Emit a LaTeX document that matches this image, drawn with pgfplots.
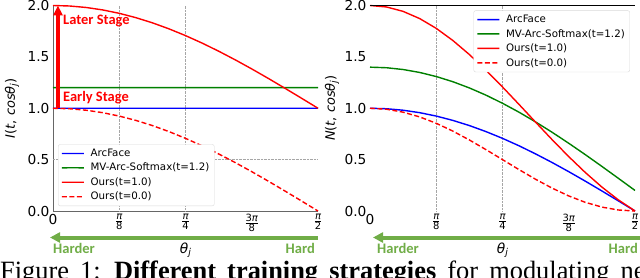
\documentclass[border=0pt]{standalone}
\usepackage{fontspec}
\setmainfont{DejaVu Sans}
\newfontfamily\carlito{Carlito}
\newfontfamily\capfont{Liberation Serif}
\usepackage{pgfplots}
\pgfplotsset{compat=1.18}
\usetikzlibrary{arrows.meta}
\definecolor{mplred}{rgb}{1,0,0}
\definecolor{mplblue}{rgb}{0,0,1}
\definecolor{mplgreen}{rgb}{0,0.5,0}
\definecolor{hgreen}{HTML}{70AD47}
\newcommand\pfrac[1]{$\frac{\mbox{\itshape π}}{\mbox{#1}}$}
\newcommand\pfracc{$\frac{\mbox{3\itshape π}}{\mbox{8}}$}
\newcommand\lab[1]{\textit{#1}(\textit{t}, \textit{cosθ}\raisebox{-0.3ex}{\fontsize{9.5}{9.5}\selectfont\itshape j})}

\pgfplotstableread{
x arc mv ours1 ours0
0.0000 1.0000 1.2000 2.0000 1.0000
0.7854 1.0001 1.2001 1.7071 0.7071
1.5708 1.0000 1.2000 1.0000 0.0000
}\leftflat

\pgfplotstableread{
x ours1 ours0
0.0000 2.0000 1.0000
0.0982 1.9952 0.9952
0.1963 1.9808 0.9808
0.2945 1.9569 0.9569
0.3927 1.9239 0.9239
0.4909 1.8819 0.8819
0.5890 1.8315 0.8315
0.6872 1.7730 0.7730
0.7854 1.7071 0.7071
0.8836 1.6344 0.6344
0.9817 1.5556 0.5556
1.0799 1.4714 0.4714
1.1781 1.3827 0.3827
1.2763 1.2903 0.2903
1.3744 1.1951 0.1951
1.4726 1.0980 0.0980
1.5708 1.0000 0.0000
}\lefttab

\pgfplotstableread{
x arc mv ours1 ours0
0.0000 1.0000 1.4000 2.0000 1.0000
0.0982 0.9952 1.3942 1.9856 0.9904
0.1963 0.9808 1.3770 1.9427 0.9619
0.2945 0.9569 1.3483 1.8727 0.9157
0.3927 0.9239 1.3087 1.7774 0.8536
0.4909 0.8819 1.2583 1.6597 0.7778
0.5890 0.8315 1.1978 1.5228 0.6913
0.6872 0.7730 1.1276 1.3706 0.5975
0.7854 0.7071 1.0485 1.2071 0.5000
0.8836 0.6344 0.9613 1.0368 0.4025
0.9817 0.5556 0.8667 0.8642 0.3087
1.0799 0.4714 0.7657 0.6936 0.2222
1.1781 0.3827 0.6592 0.5291 0.1464
1.2763 0.2903 0.5483 0.3745 0.0843
1.3744 0.1951 0.4341 0.2332 0.0381
1.4726 0.0980 0.3176 0.1076 0.0096
1.5708 0.0000 0.2000 0.0000 0.0000
}\righttab

\pgfplotsset{
  legend image code/.code={\draw[#1] (0bp,-0.02bp) -- (11bp,0.02bp) -- (22bp,-0.02bp);},
  mystyle/.style={
    width=265bp, height=205.5bp, scale only axis, clip=false,
    xmin=0, xmax=1.5708, ymin=0, ymax=2,
    xtick={0,0.3927,0.7854,1.1781,1.5708},
    xticklabels={{\fontsize{13.8}{14}\selectfont 0},\pfrac{8},\pfrac{4},\pfracc,\pfrac{2}},
    ytick={0,0.5,1,1.5,2},
    yticklabel style={font=\fontsize{13.8}{14}\selectfont, /pgf/number format/.cd, fixed, fixed zerofill, precision=1, assume math mode=true},
    xticklabel style={font=\fontsize{10}{10}\selectfont},
    major tick length=0pt,
    extra x ticks={0.3927,0.7854}, extra x tick labels={},
    extra x tick style={grid=major},
    major grid style={densely dotted, black!35, line width=0.6bp},
    axis x line*=bottom, axis y line*=left,
    legend cell align=left,
    legend style={fill=white, draw=black!15, rounded corners=2bp,
      font=\fontsize{10.3}{10.3}\selectfont,
      inner xsep=3bp, inner ysep=2.5bp, row sep=1.2bp, column sep=4bp},
    xlabel={\textit{θ}\raisebox{-0.3ex}{\fontsize{9.5}{9.5}\selectfont\itshape j}},
    xlabel style={at={(rel axis cs:0.5,-0.2044)}, anchor=base, font=\fontsize{13.8}{14}\selectfont},
    ylabel style={anchor=center, font=\fontsize{13}{13}\selectfont},
    every axis plot/.append style={line width=1.4bp},
  },
}

\begin{document}
\begin{tikzpicture}
\useasboundingbox (0,0) rectangle (640bp,278bp);

% ---------------- left ----------------
\begin{axis}[mystyle, at={(53bp,67bp)}, anchor=south west,
  axis line style={black!60, line width=0.9bp},
  extra y ticks={0.5}, extra y tick labels={},
  extra y tick style={grid=major},
  ylabel={\lab{I}}, ylabel style={at={(rel axis cs:-0.1547,0.5)}},
  legend style={at={(0.019,0.024)}, anchor=south west}]
\addplot[mplblue] table[x=x, y=arc] {\leftflat};
\addlegendentry{ArcFace}
\addplot[mplgreen] table[x=x, y=mv] {\leftflat};
\addlegendentry{MV-Arc-Softmax(t=1.2)}
\addplot[mplred] table[x=x, y=ours1] {\lefttab};
\addlegendentry{Ours(t=1.0)}
\addplot[mplred, dash pattern=on 5bp off 2.5bp] table[x=x, y=ours0] {\lefttab};
\addlegendentry{Ours(t=0.0)}
\draw[mplred, line width=4.5bp, -{Triangle[length=10bp,width=9bp]}] (axis cs:0.0296,1) -- (axis cs:0.0296,2);
\draw[hgreen, line width=4bp, -{Triangle[length=10bp,width=10bp]}] (rel axis cs:1,-0.129) -- (rel axis cs:-0.0113,-0.129);
\end{axis}

% ---------------- right ----------------
\begin{axis}[mystyle, at={(370bp,67bp)}, anchor=south west,
  axis line style={draw=none},
  ylabel={\lab{N}}, ylabel style={at={(rel axis cs:-0.1434,0.5)}},
  legend style={at={(0.981,0.976)}, anchor=north east}]
\addplot[mplblue] table[x=x, y=arc] {\righttab};
\addlegendentry{ArcFace}
\addplot[mplgreen] table[x=x, y=mv] {\righttab};
\addlegendentry{MV-Arc-Softmax(t=1.2)}
\addplot[mplred] table[x=x, y=ours1] {\righttab};
\addlegendentry{Ours(t=1.0)}
\addplot[mplred, dash pattern=on 5bp off 2.5bp] table[x=x, y=ours0] {\righttab};
\addlegendentry{Ours(t=0.0)}
\draw[black, line width=0.9bp] (rel axis cs:0,1) -- (rel axis cs:1,1);
\draw[hgreen, line width=4bp, -{Triangle[length=10bp,width=10bp]}] (rel axis cs:1.02,-0.129) -- (rel axis cs:0.0113,-0.129);
\end{axis}

% coloured texts
\begin{scope}[every node/.style={inner sep=0}]
\node[anchor=west, text=mplred, font=\carlito\bfseries\fontsize{14.5}{14.5}\selectfont] at (63bp,257bp) {Later Stage};
\node[anchor=west, text=mplred, font=\carlito\bfseries\fontsize{14.5}{14.5}\selectfont] at (63bp,180.5bp) {Early Stage};
\node[anchor=base west, text=hgreen, font=\carlito\bfseries\fontsize{14.6}{14.6}\selectfont] at (53bp,25bp) {Harder};
\node[anchor=base east, text=hgreen, font=\carlito\bfseries\fontsize{14.6}{14.6}\selectfont] at (315bp,25bp) {Hard};
\node[anchor=base west, text=hgreen, font=\carlito\bfseries\fontsize{14.6}{14.6}\selectfont] at (377bp,25bp) {Harder};
\node[anchor=base east, text=hgreen, font=\carlito\bfseries\fontsize{14.6}{14.6}\selectfont] at (638bp,25bp) {Hard};
\node[anchor=base west, font=\capfont\fontsize{26.5}{26.5}\selectfont] at (0bp,-1.5bp) {\spaceskip=0.42em plus 0.1em Figure 1: \textbf{Different training strategies} for modulating negative cosine similarities};
\end{scope}
\end{tikzpicture}
\end{document}
